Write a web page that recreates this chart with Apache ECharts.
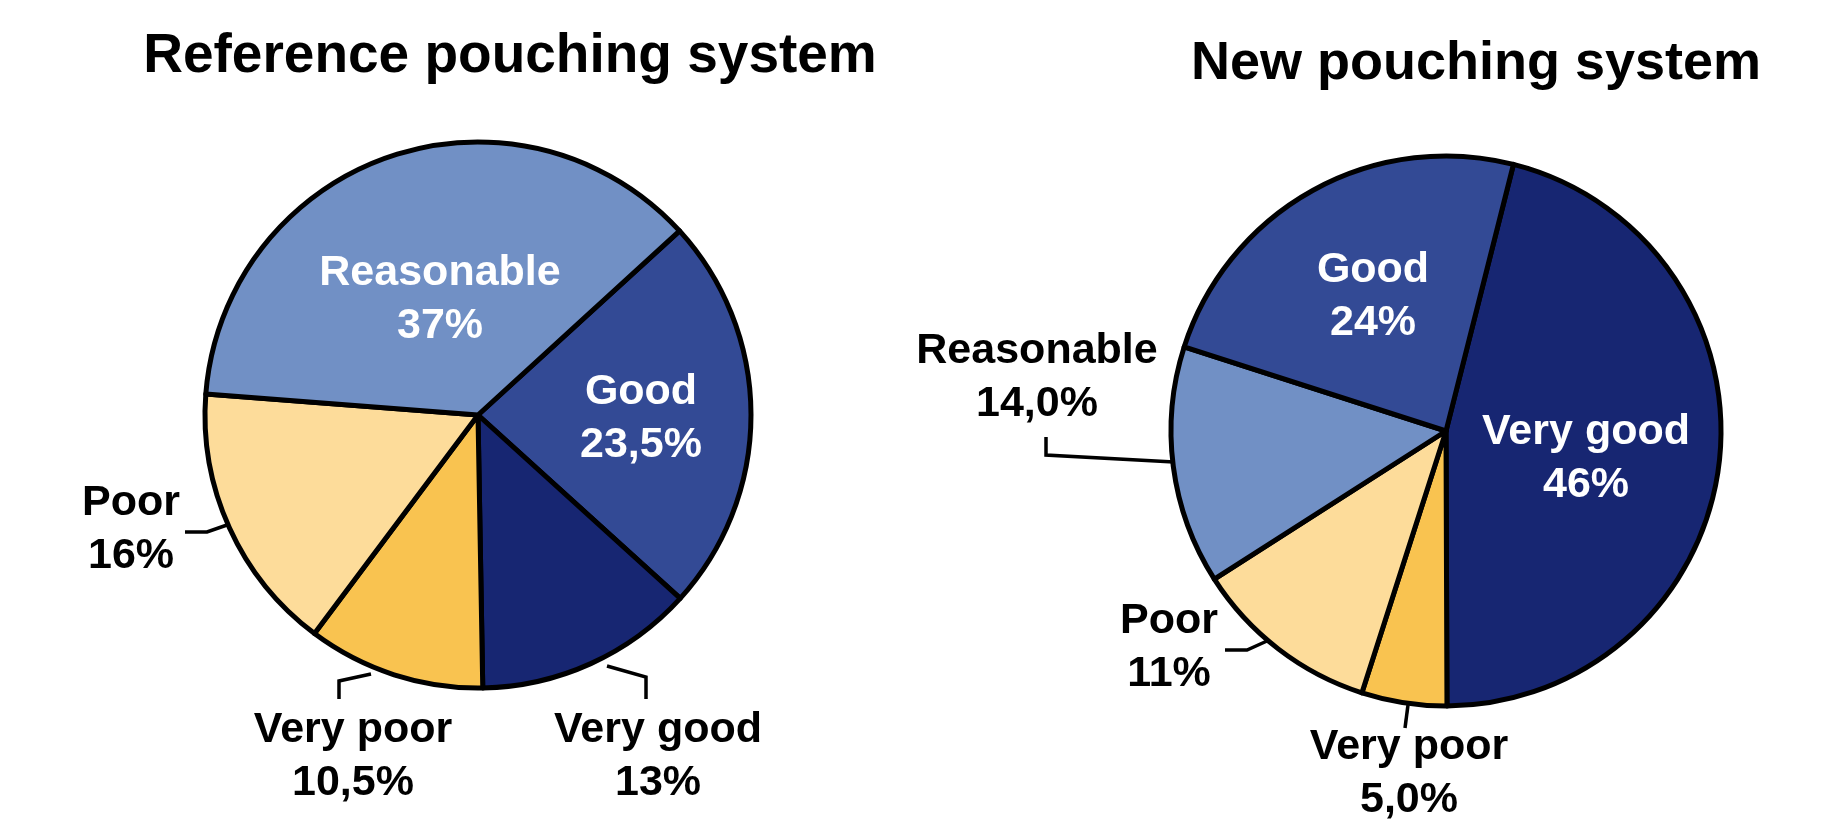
<!DOCTYPE html>
<html><head><meta charset="utf-8">
<script src="https://cdn.jsdelivr.net/npm/echarts@6/dist/echarts.min.js"></script>
<style>html,body{margin:0;padding:0;background:#fff}#chart{width:1833px;height:827px}</style>
</head><body><div id="chart"></div>
<script>
// ---- data ----
const titles = ['Reference pouching system', 'New pouching system'];
const refCategories = ['Good', 'Very good', 'Very poor', 'Poor', 'Reasonable'];
const refValues = [23.5, 13, 10.5, 16, 37];
const refLabels = ['23,5%', '13%', '10,5%', '16%', '37%'];
const newCategories = ['Very good', 'Very poor', 'Poor', 'Reasonable', 'Good'];
const newValues = [46, 5, 11, 14, 24];
const newLabels = ['46%', '5,0%', '11%', '14,0%', '24%'];

// ---- styles / layout ----
const colors = {
  'Reasonable': '#7190C5',
  'Good': '#334A95',
  'Very good': '#172672',
  'Very poor': '#F9C350',
  'Poor': '#FDDC9A'
};
const FONT = "'Liberation Sans', Arial, Helvetica, sans-serif";

const pies = [
  {
    center: [478, 415], radius: 273, startAngle: 42.4,
    title: { x: 505, y: 24, size: 55 },
    cats: refCategories, vals: refValues, labs: refLabels,
    place: {
      'Good': { inside: true, at: [163, 4] },
      'Reasonable': { inside: true, at: [-38, -115] },
      'Poor': { at: [-347, 115], line: [[-251, 110], [-271, 117], [-293, 117]] },
      'Very poor': { at: [-125, 342], line: [[-107, 259], [-139, 266], [-139, 284]] },
      'Very good': { at: [180, 342], line: [[129, 251], [168, 262], [168, 284]] }
    }
  },
  {
    center: [1446, 431], radius: 275, startAngle: 75.8,
    title: { x: 1471, y: 32, size: 54 },
    cats: newCategories, vals: newValues, labs: newLabels,
    place: {
      'Very good': { inside: true, at: [140, 28] },
      'Good': { inside: true, at: [-73, -134] },
      'Reasonable': { at: [-409, -53], line: [[-272, 31], [-400, 24], [-400, 6]] },
      'Poor': { at: [-277, 217], line: [[-179, 210], [-199, 219], [-221, 219]] },
      'Very poor': { at: [-37, 343], line: [[-38, 274], [-41, 297]] }
    }
  }
];

const chart = echarts.init(document.getElementById('chart'), null, { renderer: 'canvas' });

const series = pies.map((p) => ({
  type: 'pie',
  center: p.center,
  radius: p.radius,
  startAngle: p.startAngle,
  clockwise: true,
  avoidLabelOverlap: false,
  animation: false,
  silent: true,
  itemStyle: { borderColor: '#000', borderWidth: 5 },
  label: {
    fontFamily: FONT, fontWeight: 'bold', fontSize: 43, lineHeight: 53,
    formatter: (prm) => prm.name + '\n' + p.labs[prm.dataIndex]
  },
  labelLine: { show: true, smooth: false, lineStyle: { color: '#000', width: 3.5 } },
  labelLayout: (prm) => {
    const name = p.cats[prm.dataIndex];
    const cfg = p.place[name];
    const cx = p.center[0], cy = p.center[1];
    const out = { x: cx + cfg.at[0], y: cy + cfg.at[1], align: 'center', verticalAlign: 'middle' };
    if (cfg.line) out.labelLinePoints = cfg.line.map(pt => [cx + pt[0], cy + pt[1]]);
    return out;
  },
  data: p.cats.map((c, i) => {
    const cfg = p.place[c];
    return {
      name: c,
      value: p.vals[i],
      itemStyle: { color: colors[c] },
      label: { position: cfg.inside ? 'inside' : 'outside', color: cfg.inside ? '#fff' : '#000' },
      labelLine: { show: !cfg.inside }
    };
  })
}));

chart.setOption({
  backgroundColor: '#fff',
  title: pies.map((p, i) => ({
    text: titles[i],
    left: p.title.x,
    top: p.title.y,
    textAlign: 'center',
    textStyle: { fontFamily: FONT, fontWeight: 'bold', fontSize: p.title.size, color: '#000' }
  })),
  series: series
});
</script>
</body></html>
